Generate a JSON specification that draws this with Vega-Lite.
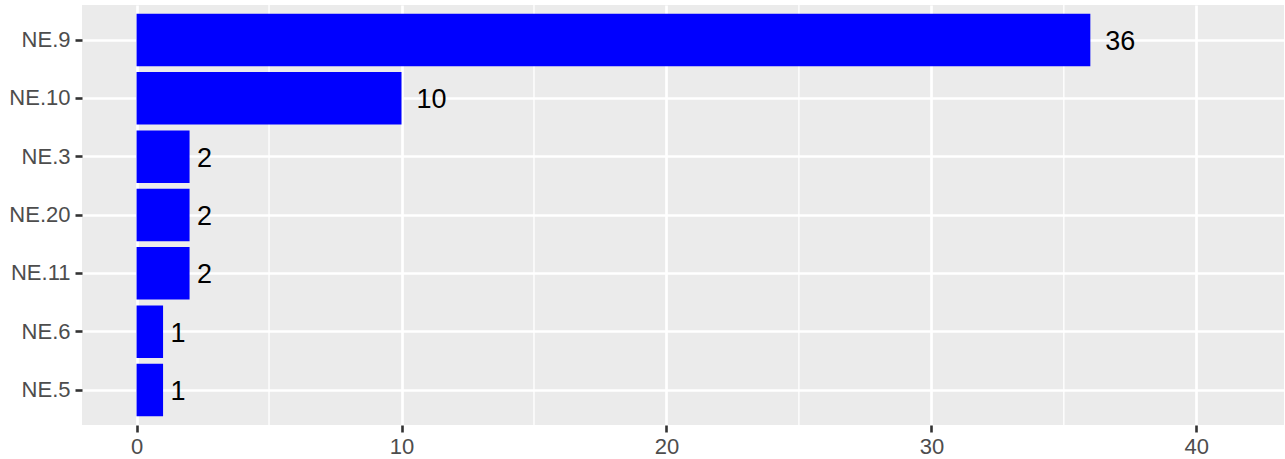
{
  "$schema": "https://vega.github.io/schema/vega-lite/v6.json",
  "width": 1202,
  "height": 420,
  "autosize": {"type": "none"},
  "padding": {"left": 82, "top": 5, "right": 1, "bottom": 34},
  "background": "white",
  "config": {
    "view": {"fill": "#EBEBEB", "stroke": null},
    "font": "Liberation Sans",
    "axis": {"labelFont": "Liberation Sans"}
  },
  "datasets": {
    "bars": [
      {"cat": "NE.9", "n": 36},
      {"cat": "NE.10", "n": 10},
      {"cat": "NE.3", "n": 2},
      {"cat": "NE.20", "n": 2},
      {"cat": "NE.11", "n": 2},
      {"cat": "NE.6", "n": 1},
      {"cat": "NE.5", "n": 1}
    ],
    "minor": [{"v": 5}, {"v": 15}, {"v": 25}, {"v": 35}]
  },
  "layer": [
    {
      "data": {"name": "minor"},
      "mark": {"type": "rule", "color": "white", "strokeWidth": 1.33},
      "encoding": {
        "x": {"field": "v", "type": "quantitative"}
      }
    },
    {
      "data": {"name": "bars"},
      "mark": {"type": "bar", "color": "#0000FF"},
      "encoding": {
        "y": {
          "field": "cat", "type": "nominal",
          "sort": ["NE.9", "NE.10", "NE.3", "NE.20", "NE.11", "NE.6", "NE.5"],
          "scale": {"paddingInner": 0.1, "paddingOuter": 0.15},
          "title": null,
          "axis": {
            "domain": false,
            "grid": true, "gridColor": "white", "gridWidth": 2.67, "bandPosition": 0.5,
            "ticks": true, "tickColor": "#333333", "tickSize": 7, "tickWidth": 2.6,
            "labelFontSize": 22, "labelColor": "#4D4D4D", "labelPadding": 5
          }
        },
        "x": {
          "field": "n", "type": "quantitative",
          "scale": {"domain": [-2.06, 43.31], "nice": false, "zero": false},
          "title": null,
          "axis": {
            "values": [0, 10, 20, 30, 40],
            "domain": false,
            "grid": true, "gridColor": "white", "gridWidth": 2.67,
            "ticks": true, "tickColor": "#333333", "tickSize": 7, "tickWidth": 2.6,
            "labelFontSize": 22, "labelColor": "#4D4D4D", "labelPadding": 4
          }
        }
      }
    },
    {
      "data": {"name": "bars"},
      "mark": {
        "type": "text", "align": "left", "baseline": "middle",
        "fontSize": 27, "color": "black", "dy": 2,
        "dx": {"expr": "7.5*length(toString(datum.n))"}
      },
      "encoding": {
        "y": {
          "field": "cat", "type": "nominal",
          "sort": ["NE.9", "NE.10", "NE.3", "NE.20", "NE.11", "NE.6", "NE.5"]
        },
        "x": {"field": "n", "type": "quantitative"},
        "text": {"field": "n", "type": "quantitative"}
      }
    }
  ]
}
